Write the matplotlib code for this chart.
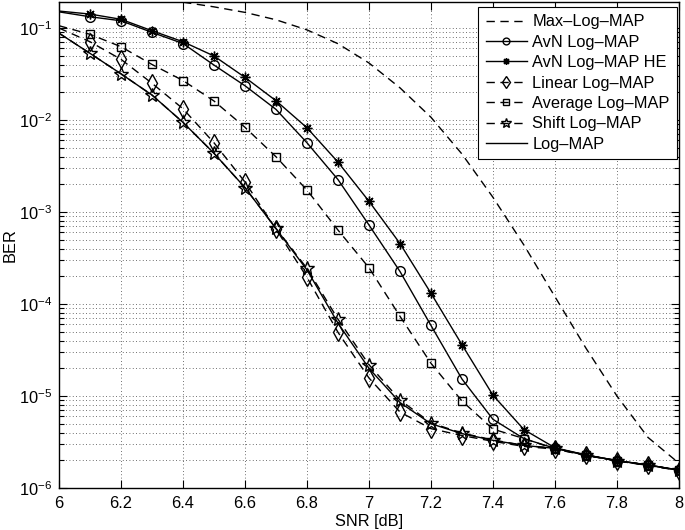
import matplotlib
matplotlib.use("Agg")
import matplotlib.pyplot as plt
from matplotlib.ticker import FixedLocator, FixedFormatter, LogLocator, NullFormatter

plt.rcParams["font.family"] = ["Liberation Sans", "DejaVu Sans"]
plt.rcParams["mathtext.fontset"] = "custom"
plt.rcParams["mathtext.rm"] = "Liberation Sans"
plt.rcParams["mathtext.default"] = "regular"

# SNR points in dB
snr = [6.0, 6.1, 6.2, 6.3, 6.4, 6.5, 6.6, 6.7, 6.8, 6.9, 7.0,
       7.1, 7.2, 7.3, 7.4, 7.5, 7.6, 7.7, 7.8, 7.9, 8.0]

# BER
ber_max_log_map = [0.251, 0.240, 0.224, 0.209, 0.191, 0.170, 0.148, 0.123, 0.0955, 0.0676, 0.0417,
                   0.0224, 0.01072, 0.00427, 0.001445, 4.37e-4, 1.20e-4, 3.31e-5, 1.0e-5, 3.55e-6, 1.86e-6]
ber_avn = [0.150, 0.1327, 0.120, 0.0897, 0.0679, 0.0396, 0.0236, 0.01306, 0.00566, 0.002254, 7.23e-4,
           2.26e-4, 5.85e-5, 1.53e-5, 5.58e-6, 3.44e-6, 2.70e-6, 2.28e-6, 1.98e-6, 1.78e-6, 1.57e-6]
ber_avn_he = [0.153, 0.1419, 0.1245, 0.0935, 0.0710, 0.0497, 0.0291, 0.01622, 0.00824, 0.00349, 1.309e-3,
              4.55e-4, 1.31e-4, 3.61e-5, 1.02e-5, 4.31e-6, 2.74e-6, 2.29e-6, 1.99e-6, 1.78e-6, 1.56e-6]
ber_linear = [0.100, 0.0710, 0.0457, 0.0251, 0.01327, 0.00566, 0.00212, 6.53e-4, 1.95e-4, 4.93e-5, 1.57e-5,
              6.70e-6, 4.42e-6, 3.72e-6, 3.22e-6, 2.83e-6, 2.65e-6, 2.26e-6, 1.97e-6, 1.76e-6, 1.55e-6]
ber_average = [0.106, 0.0855, 0.0627, 0.0402, 0.0269, 0.01611, 0.00834, 0.00399, 1.733e-3, 6.37e-4, 2.48e-4,
               7.36e-5, 2.27e-5, 8.83e-6, 4.37e-6, 3.45e-6, 2.66e-6, 2.27e-6, 1.98e-6, 1.77e-6, 1.56e-6]
ber_shift = [0.088, 0.0531, 0.0318, 0.0187, 0.00944, 0.00435, 0.001845, 6.65e-4, 2.44e-4, 6.84e-5, 2.19e-5,
             9.06e-6, 5.10e-6, 3.96e-6, 3.33e-6, 2.91e-6, 2.70e-6, 2.28e-6, 1.98e-6, 1.78e-6, 1.56e-6]
ber_log_map = [0.088, 0.0531, 0.0318, 0.0187, 0.00944, 0.00435, 0.001845, 6.6e-4, 2.35e-4, 6.2e-5, 2.0e-5,
               8.5e-6, 5.0e-6, 3.9e-6, 3.3e-6, 2.9e-6, 2.7e-6, 2.28e-6, 1.98e-6, 1.78e-6, 1.56e-6]

x_ticks = [6.0, 6.2, 6.4, 6.6, 6.8, 7.0, 7.2, 7.4, 7.6, 7.8, 8.0]
x_tick_labels = ["6", "6.2", "6.4", "6.6", "6.8", "7", "7.2", "7.4", "7.6", "7.8", "8"]

fig = plt.figure(figsize=(6.85, 5.3), dpi=100)
ax = fig.add_axes([0.0861, 0.0792, 0.9051, 0.917])

dash = (0, (6, 4))
skip_first = list(range(1, len(snr)))

ax.semilogy(snr, ber_max_log_map, color="k", lw=1.0, ls=dash, label="Max\u2013Log\u2013MAP")
ax.semilogy(snr, ber_avn, color="k", lw=1.0, ls="-", marker="o", ms=7, mfc="none",
            mew=1.0, markevery=skip_first, label="AvN Log\u2013MAP")
ax.semilogy(snr, ber_avn_he, color="k", lw=1.0, ls="-", marker=(8, 2, 0), ms=7,
            mew=1.0, markevery=skip_first, label="AvN Log\u2013MAP HE")
ax.semilogy(snr, ber_linear, color="k", lw=1.0, ls=dash, marker="d", ms=9, mfc="none",
            mew=1.0, markevery=skip_first, label="Linear Log\u2013MAP")
ax.semilogy(snr, ber_average, color="k", lw=1.0, ls=dash, marker="s", ms=6, mfc="none",
            mew=1.0, markevery=skip_first, label="Average Log\u2013MAP")
ax.semilogy(snr, ber_shift, color="k", lw=1.0, ls=dash, marker="*", ms=10, mfc="none",
            mew=1.0, markevery=skip_first, label="Shift Log\u2013MAP")
ax.semilogy(snr, ber_log_map, color="k", lw=1.0, ls="-", label="Log\u2013MAP")

ax.set_xlim(6, 8)
ax.set_ylim(1e-6, 10 ** -0.717)

ax.xaxis.set_major_locator(FixedLocator(x_ticks))
ax.xaxis.set_major_formatter(FixedFormatter(x_tick_labels))
ax.yaxis.set_major_locator(LogLocator(base=10, numticks=10))
ax.yaxis.set_minor_locator(LogLocator(base=10, subs=[2, 3, 4, 5, 6, 7, 8, 9], numticks=20))
ax.yaxis.set_minor_formatter(NullFormatter())

ax.grid(True, which="major", axis="both", color="0.25", ls=(0, (1, 3)), lw=0.6)
ax.grid(True, which="minor", axis="y", color="0.25", ls=(0, (1, 3)), lw=0.6)

ax.tick_params(which="both", direction="in", top=True, right=True, labelsize=11.8, width=0.8)
ax.tick_params(which="major", length=6, pad=6)
ax.tick_params(axis="y", which="major", pad=5)
ax.tick_params(which="minor", length=3.5)
for spine in ax.spines.values():
    spine.set_linewidth(1.0)

ax.set_xlabel("SNR [dB]", fontsize=11.8, labelpad=2)
ax.set_ylabel("BER", fontsize=11.8)
ax.yaxis.set_label_coords(-0.066, 0.5)

leg = ax.legend(loc="upper right", bbox_to_anchor=(0.9968, 0.9897), borderaxespad=0,
                fontsize=11.8, handlelength=2.55, handletextpad=0.3, labelspacing=0.33,
                borderpad=0.45, fancybox=False, framealpha=1, edgecolor="k", markerscale=0.7)
leg.get_frame().set_linewidth(0.8)

plt.savefig("out.png", dpi=100)
plt.close()
